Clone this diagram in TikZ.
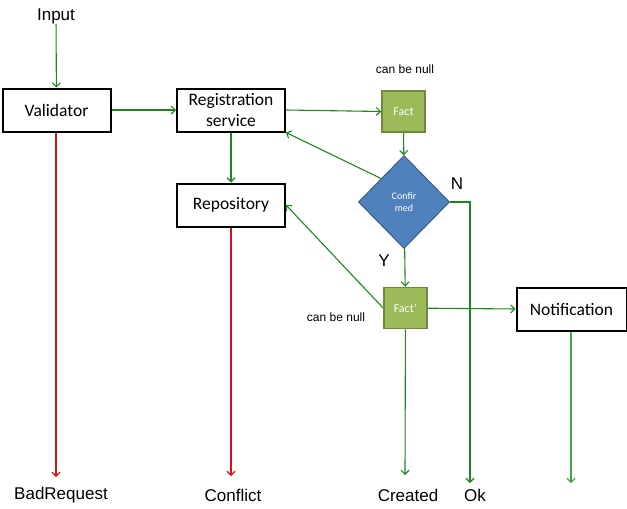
\documentclass[tikz,border=0pt]{standalone}
\usepackage{fontspec}
\setmainfont{Liberation Sans}
\newfontfamily\calibri{Carlito}
\usetikzlibrary{arrows.meta,shapes.geometric}
\definecolor{flowgreen}{RGB}{30,135,30}
\definecolor{lightgreen}{RGB}{70,165,70}
\definecolor{flowred}{RGB}{215,20,20}
\definecolor{factfill}{RGB}{155,187,89}
\definecolor{factline}{RGB}{113,137,63}
\definecolor{confill}{RGB}{79,129,189}
\definecolor{conline}{RGB}{56,93,138}
\begin{document}
\begin{tikzpicture}[x=1pt,y=-1pt,
  box/.style={draw=black,line width=2pt,minimum width=108pt,minimum height=43pt,
    inner sep=0pt,align=center,font=\calibri\fontsize{17.5}{21}\selectfont},
  fact/.style={draw=factline,fill=factfill,line width=1.8pt,minimum width=43pt,
    minimum height=41pt,inner sep=0pt,text=white,font=\calibri\fontsize{12}{14}\selectfont},
  outtext/.style={inner sep=0pt,font=\fontsize{17}{20}\selectfont},
  note/.style={inner sep=0pt,font=\fontsize{12}{14}\selectfont},
  flow/.style={draw=flowgreen,line width=1.1pt,-{Straight Barb[length=4pt,width=8pt]}},
  fail/.style={draw=flowred,line width=1.1pt,-{Straight Barb[length=4pt,width=8pt]}}]
\useasboundingbox (0,0) rectangle (627,509);

% boxes
\node[outtext] (input) at (56,16) {Input};
\node[box] (validator) at (56.5,110) {Validator};
\node[box] (reg) at (231,110) {Registration\\service};
\node[box] (repo) at (231,205) {Repository};
\node[fact] (fact) at (403.5,111.5) {Fact};
\node[note] (null1) at (405,69) {can be null};
\node[diamond,draw=conline,fill=confill,line width=1pt,minimum width=91pt,minimum height=93pt,
  inner sep=0pt,align=center,text=white,font=\calibri\fontsize{10}{12}\selectfont]
  (confirmed) at (404,202) {Confir\\med};
\node[outtext] (n) at (457,184) {N};
\node[outtext] (y) at (384,261) {Y};
\node[fact] (factp) at (405.5,308) {Fact’};
\node[note] (null2) at (336,317) {can be null};
\node[box,minimum width=110pt] (notify) at (571.5,309.5) {Notification};

% results
\node[outtext] (badreq) at (61,495) {BadRequest};
\node[outtext] (conflict) at (233,495) {Conflict};
\node[outtext] (created) at (408,495) {Created};
\node[outtext] (ok) at (475,495) {Ok};
\coordinate (badtip) at (56,477);
\coordinate (conftip) at (231,476);
\coordinate (createdtip) at (405,475);
\coordinate (oktip) at (470,483);
\coordinate (notifytip) at (571,483);

% connectors
\draw[flow] (input) -- (validator);
\draw[flow] (validator) -- (reg);
\draw[flow] (reg) -- (repo);
\draw[flow] (reg.east) -- (fact.west);
\draw[flow] (fact) -- (confirmed);
\draw[flow] (confirmed.north west) -- (reg.south east);
\draw[flow] (confirmed) -- (factp);
\draw[flow] (factp.west) -- (repo.east);
\draw[flow] (factp) -- (notify);
\draw[flow] (confirmed.east) -| (oktip);
\draw[flow] (factp) -- (createdtip);
\draw[flow,draw=lightgreen] (notify.south -| notifytip) -- (notifytip);
\draw[fail] (validator.south -| badtip) -- (badtip);
\draw[fail] (repo) -- (conftip);

\end{tikzpicture}
\end{document}
